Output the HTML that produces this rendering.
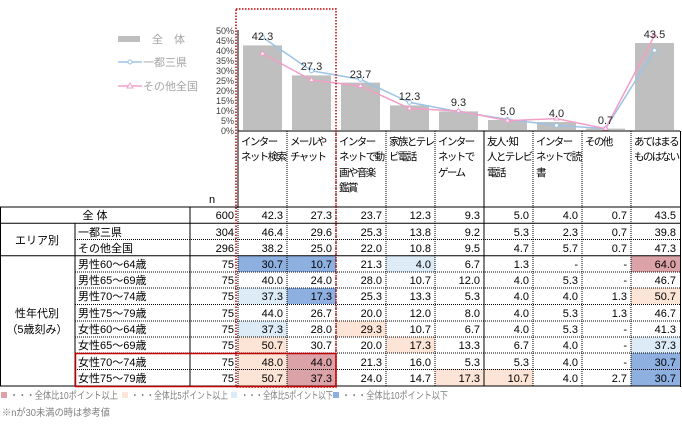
<!DOCTYPE html>
<html><head><meta charset="utf-8"><style>
html,body{margin:0;padding:0;background:#fff;}
svg{display:block;font-family:"Liberation Sans","Noto Sans CJK JP",sans-serif;}
</style></head><body>
<svg width="682" height="429" viewBox="0 0 682 429" xmlns="http://www.w3.org/2000/svg">
<!-- legend -->
<rect x="118" y="36" width="22" height="6" fill="#bfbfbf"/>
<text x="152" y="43" font-size="11" fill="#a6a6a6">全　体</text>
<line x1="118" y1="62" x2="142" y2="62" stroke="#9dc3e6" stroke-width="1.5"/>
<circle cx="130" cy="62" r="2" fill="#fff" stroke="#9dc3e6"/>
<text x="143" y="66" font-size="11" fill="#a6a6a6">一都三県</text>
<line x1="118" y1="86" x2="142" y2="86" stroke="#f29fc8" stroke-width="1.5"/>
<path d="M130 83 L133 88 L127 88Z" fill="#fff" stroke="#f29fc8"/>
<text x="143" y="90" font-size="11" fill="#a6a6a6">その他全国</text>
<!-- y axis -->
<g font-size="9" fill="#404040" text-anchor="end">
<text x="234" y="34">50%</text><text x="234" y="44">45%</text><text x="234" y="54">40%</text><text x="234" y="64">35%</text><text x="234" y="74">30%</text><text x="234" y="84">25%</text><text x="234" y="94">20%</text><text x="234" y="104">15%</text><text x="234" y="114">10%</text><text x="234" y="124">5%</text><text x="234" y="134">0%</text>
</g>
<line x1="238" y1="30" x2="238" y2="131" stroke="#000"/>
<!-- bars -->
<g fill="#bfbfbf">
<rect x="243" y="45.4" width="39" height="84.6"/>
<rect x="292" y="75.4" width="39" height="54.6"/>
<rect x="341" y="82.6" width="39" height="47.4"/>
<rect x="390" y="105.4" width="39" height="24.6"/>
<rect x="439" y="111.4" width="39" height="18.6"/>
<rect x="488" y="120" width="39" height="10"/>
<rect x="537" y="122" width="39" height="8"/>
<rect x="586" y="128.6" width="39" height="1.4"/>
<rect x="635" y="43" width="39" height="87"/>
</g>
<polyline fill="none" stroke="#9dc3e6" stroke-width="1.5" points="262.5,37.2 311.5,70.8 360.5,79.4 409.5,102.4 458.5,111.6 507.5,119.4 556.5,125.4 605.5,128.6 654.5,50.4"/>
<g fill="#fff" stroke="#9dc3e6"><circle cx="262.5" cy="37.2" r="2"/><circle cx="311.5" cy="70.8" r="2"/><circle cx="360.5" cy="79.4" r="2"/><circle cx="409.5" cy="102.4" r="2"/><circle cx="458.5" cy="111.6" r="2"/><circle cx="507.5" cy="119.4" r="2"/><circle cx="556.5" cy="125.4" r="2"/><circle cx="605.5" cy="128.6" r="2"/><circle cx="654.5" cy="50.4" r="2"/></g>
<polyline fill="none" stroke="#f29fc8" stroke-width="1.5" points="262.5,53.6 311.5,80 360.5,86 409.5,108.4 458.5,111 507.5,120.6 556.5,118.6 605.5,128.6 654.5,35.4"/>
<g fill="#fff" stroke="#f29fc8"><path d="M262.5 51 l2.5 4 h-5z"/><path d="M311.5 77.4 l2.5 4 h-5z"/><path d="M360.5 83.4 l2.5 4 h-5z"/><path d="M409.5 105.8 l2.5 4 h-5z"/><path d="M458.5 108.4 l2.5 4 h-5z"/><path d="M507.5 118 l2.5 4 h-5z"/><path d="M556.5 116 l2.5 4 h-5z"/><path d="M605.5 126 l2.5 4 h-5z"/><path d="M654.5 32.8 l2.5 4 h-5z"/></g>
<g font-size="11" fill="#262626" text-anchor="middle">
<text x="262.5" y="40">42.3</text><text x="311.5" y="70">27.3</text><text x="360.5" y="78">23.7</text><text x="409.5" y="100">12.3</text><text x="458.5" y="106">9.3</text><text x="507.5" y="115">5.0</text><text x="556.5" y="117">4.0</text><text x="605.5" y="124">0.7</text><text x="654.5" y="38">43.5</text>
</g>
<!-- header labels -->
<line x1="238" y1="131" x2="680" y2="131" stroke="#000"/>
<g stroke="#000" stroke-dasharray="1,1">
<line x1="287" y1="131" x2="287" y2="207"/><line x1="336" y1="131" x2="336" y2="207"/><line x1="386" y1="131" x2="386" y2="207"/><line x1="435" y1="131" x2="435" y2="207"/><line x1="533" y1="131" x2="533" y2="207"/><line x1="582" y1="131" x2="582" y2="207"/><line x1="631" y1="131" x2="631" y2="207"/>
</g>
<g stroke="#000"><line x1="238" y1="131" x2="238" y2="207"/><line x1="484" y1="131" x2="484" y2="207"/><line x1="680.5" y1="131" x2="680.5" y2="387"/></g>
<g font-size="10.5" fill="#000" letter-spacing="-1.6">
<text x="241" y="145">インター</text><text x="241" y="160">ネット検索</text>
<text x="290" y="145">メールや</text><text x="290" y="160">チャット</text>
<text x="339" y="145">インター</text><text x="339" y="160">ネットで動</text><text x="339" y="176">画や音楽</text><text x="339" y="191">鑑賞</text>
<text x="389" y="145">家族とテレ</text><text x="389" y="160">ビ電話</text>
<text x="438" y="145">インター</text><text x="438" y="160">ネットで</text><text x="438" y="176">ゲーム</text>
<text x="487" y="145">友人･知</text><text x="487" y="160">人とテレビ</text><text x="487" y="176">電話</text>
<text x="536" y="145">インター</text><text x="536" y="160">ネットで読</text><text x="536" y="176">書</text>
<text x="585" y="145">その他</text>
<text x="634" y="145">あてはまる</text><text x="634" y="160">ものはない</text>
</g>
<text x="209" y="203" font-size="11">n</text>
<!-- cell fills -->
<g>
<rect x="238" y="256" width="49" height="16" fill="#8eb0e0"/><rect x="287" y="256" width="49" height="16" fill="#8eb0e0"/><rect x="386" y="256" width="49" height="16" fill="#ddebf7"/><rect x="631" y="256" width="49" height="16" fill="#dba3a8"/>
<rect x="238" y="288" width="49" height="16" fill="#ddebf7"/><rect x="287" y="288" width="49" height="16" fill="#8eb0e0"/><rect x="631" y="288" width="49" height="16" fill="#fce4d6"/>
<rect x="238" y="321" width="49" height="16" fill="#ddebf7"/><rect x="336" y="321" width="50" height="16" fill="#fce4d6"/>
<rect x="238" y="337" width="49" height="16" fill="#fce4d6"/><rect x="386" y="337" width="49" height="16" fill="#fce4d6"/><rect x="631" y="337" width="49" height="16" fill="#ddebf7"/>
<rect x="238" y="353" width="49" height="16" fill="#fce4d6"/><rect x="287" y="353" width="49" height="16" fill="#dba3a8"/><rect x="631" y="353" width="49" height="16" fill="#8eb0e0"/>
<rect x="238" y="369" width="49" height="17" fill="#fce4d6"/><rect x="287" y="369" width="49" height="17" fill="#dba3a8"/><rect x="435" y="369" width="49" height="17" fill="#fce4d6"/><rect x="484" y="369" width="49" height="17" fill="#fce4d6"/><rect x="631" y="369" width="49" height="17" fill="#8eb0e0"/>
</g>
<!-- table lines -->
<g stroke="#000" stroke-dasharray="1,1">
<line x1="75" y1="239.5" x2="680" y2="239.5"/>
<line x1="75" y1="272" x2="680" y2="272"/><line x1="75" y1="288" x2="680" y2="288"/><line x1="75" y1="304.5" x2="680" y2="304.5"/><line x1="75" y1="321" x2="680" y2="321"/><line x1="75" y1="337" x2="680" y2="337"/><line x1="75" y1="353" x2="680" y2="353"/><line x1="75" y1="369.5" x2="680" y2="369.5"/>
<line x1="238" y1="207" x2="238" y2="386"/><line x1="287" y1="207" x2="287" y2="386"/><line x1="336" y1="207" x2="336" y2="386"/><line x1="386" y1="207" x2="386" y2="386"/><line x1="435" y1="207" x2="435" y2="386"/><line x1="533" y1="207" x2="533" y2="386"/><line x1="582" y1="207" x2="582" y2="386"/><line x1="631" y1="207" x2="631" y2="386"/>
</g>
<g stroke="#000">
<line x1="0" y1="207" x2="680" y2="207"/><line x1="0" y1="223.3" x2="680" y2="223.3"/><line x1="0" y1="255.8" x2="680" y2="255.8"/><line x1="0" y1="386" x2="680" y2="386"/>
<line x1="0.5" y1="207" x2="0.5" y2="386"/><line x1="75" y1="223" x2="75" y2="386"/><line x1="190" y1="207" x2="190" y2="386"/><line x1="484" y1="207" x2="484" y2="386"/>
</g>
<!-- highlight boxes -->
<rect x="236" y="9" width="100" height="378" fill="none" stroke="#c00000" stroke-width="1.5" stroke-dasharray="1.5,1.5"/>
<rect x="75.5" y="353.5" width="260.5" height="33" fill="none" stroke="#c00000" stroke-width="1.5"/>
<!-- table text -->
<g font-size="11" fill="#000">
<text x="95" y="219" text-anchor="middle">全 体</text>
<text x="37" y="244" text-anchor="middle">エリア別</text>
<text x="37" y="317" text-anchor="middle">性年代別</text>
<text x="37" y="333" text-anchor="middle">（5歳刻み）</text>
<text x="78" y="236">一都三県</text><text x="78" y="252">その他全国</text>
<text x="78" y="268">男性60～64歳</text><text x="78" y="284">男性65～69歳</text><text x="78" y="300">男性70～74歳</text><text x="78" y="317">男性75～79歳</text><text x="78" y="333">女性60～64歳</text><text x="78" y="349">女性65～69歳</text><text x="78" y="366">女性70～74歳</text><text x="78" y="382">女性75～79歳</text>
</g>
<g font-size="11" fill="#000" text-anchor="end">
<text x="234" y="219">600</text><text x="234" y="236">304</text><text x="234" y="252">296</text><text x="234" y="268">75</text><text x="234" y="284">75</text><text x="234" y="300">75</text><text x="234" y="317">75</text><text x="234" y="333">75</text><text x="234" y="349">75</text><text x="234" y="366">75</text><text x="234" y="382">75</text>
<text x="283" y="219">42.3</text><text x="332" y="219">27.3</text><text x="382" y="219">23.7</text><text x="431" y="219">12.3</text><text x="480" y="219">9.3</text><text x="529" y="219">5.0</text><text x="578" y="219">4.0</text><text x="627" y="219">0.7</text><text x="676" y="219">43.5</text>
<text x="283" y="236">46.4</text><text x="332" y="236">29.6</text><text x="382" y="236">25.3</text><text x="431" y="236">13.8</text><text x="480" y="236">9.2</text><text x="529" y="236">5.3</text><text x="578" y="236">2.3</text><text x="627" y="236">0.7</text><text x="676" y="236">39.8</text>
<text x="283" y="252">38.2</text><text x="332" y="252">25.0</text><text x="382" y="252">22.0</text><text x="431" y="252">10.8</text><text x="480" y="252">9.5</text><text x="529" y="252">4.7</text><text x="578" y="252">5.7</text><text x="627" y="252">0.7</text><text x="676" y="252">47.3</text>
<text x="283" y="268">30.7</text><text x="332" y="268">10.7</text><text x="382" y="268">21.3</text><text x="431" y="268">4.0</text><text x="480" y="268">6.7</text><text x="529" y="268">1.3</text><text x="578" y="268">-</text><text x="627" y="268">-</text><text x="676" y="268">64.0</text>
<text x="283" y="284">40.0</text><text x="332" y="284">24.0</text><text x="382" y="284">28.0</text><text x="431" y="284">10.7</text><text x="480" y="284">12.0</text><text x="529" y="284">4.0</text><text x="578" y="284">5.3</text><text x="627" y="284">-</text><text x="676" y="284">46.7</text>
<text x="283" y="300">37.3</text><text x="332" y="300">17.3</text><text x="382" y="300">25.3</text><text x="431" y="300">13.3</text><text x="480" y="300">5.3</text><text x="529" y="300">4.0</text><text x="578" y="300">4.0</text><text x="627" y="300">1.3</text><text x="676" y="300">50.7</text>
<text x="283" y="317">44.0</text><text x="332" y="317">26.7</text><text x="382" y="317">20.0</text><text x="431" y="317">12.0</text><text x="480" y="317">8.0</text><text x="529" y="317">4.0</text><text x="578" y="317">5.3</text><text x="627" y="317">1.3</text><text x="676" y="317">46.7</text>
<text x="283" y="333">37.3</text><text x="332" y="333">28.0</text><text x="382" y="333">29.3</text><text x="431" y="333">10.7</text><text x="480" y="333">6.7</text><text x="529" y="333">4.0</text><text x="578" y="333">5.3</text><text x="627" y="333">-</text><text x="676" y="333">41.3</text>
<text x="283" y="349">50.7</text><text x="332" y="349">30.7</text><text x="382" y="349">20.0</text><text x="431" y="349">17.3</text><text x="480" y="349">13.3</text><text x="529" y="349">6.7</text><text x="578" y="349">4.0</text><text x="627" y="349">-</text><text x="676" y="349">37.3</text>
<text x="283" y="366">48.0</text><text x="332" y="366">44.0</text><text x="382" y="366">21.3</text><text x="431" y="366">16.0</text><text x="480" y="366">5.3</text><text x="529" y="366">5.3</text><text x="578" y="366">4.0</text><text x="627" y="366">-</text><text x="676" y="366">30.7</text>
<text x="283" y="382">50.7</text><text x="332" y="382">37.3</text><text x="382" y="382">24.0</text><text x="431" y="382">14.7</text><text x="480" y="382">17.3</text><text x="529" y="382">10.7</text><text x="578" y="382">4.0</text><text x="627" y="382">2.7</text><text x="676" y="382">30.7</text>
</g>
<!-- footer -->
<g font-size="10" fill="#7f7f7f">
<rect x="1" y="392" width="6" height="6" fill="#dba3a8"/><text x="10" y="399" textLength="108" lengthAdjust="spacingAndGlyphs">・・・全体比10ポイント以上</text>
<rect x="122" y="392" width="6" height="6" fill="#fce4d6"/><text x="131" y="399" textLength="97" lengthAdjust="spacingAndGlyphs">・・・全体比5ポイント以上</text>
<rect x="231" y="392" width="6" height="6" fill="#ddebf7"/><text x="241" y="399" textLength="92" lengthAdjust="spacingAndGlyphs">・・・全体比5ポイント以下</text>
<rect x="333" y="392" width="6" height="6" fill="#8eb0e0"/><text x="342" y="399" textLength="106" lengthAdjust="spacingAndGlyphs">・・・全体比10ポイント以下</text>
<text x="2" y="416" textLength="108" lengthAdjust="spacingAndGlyphs">※nが30未満の時は参考値</text>
</g>
</svg>
</body></html>
